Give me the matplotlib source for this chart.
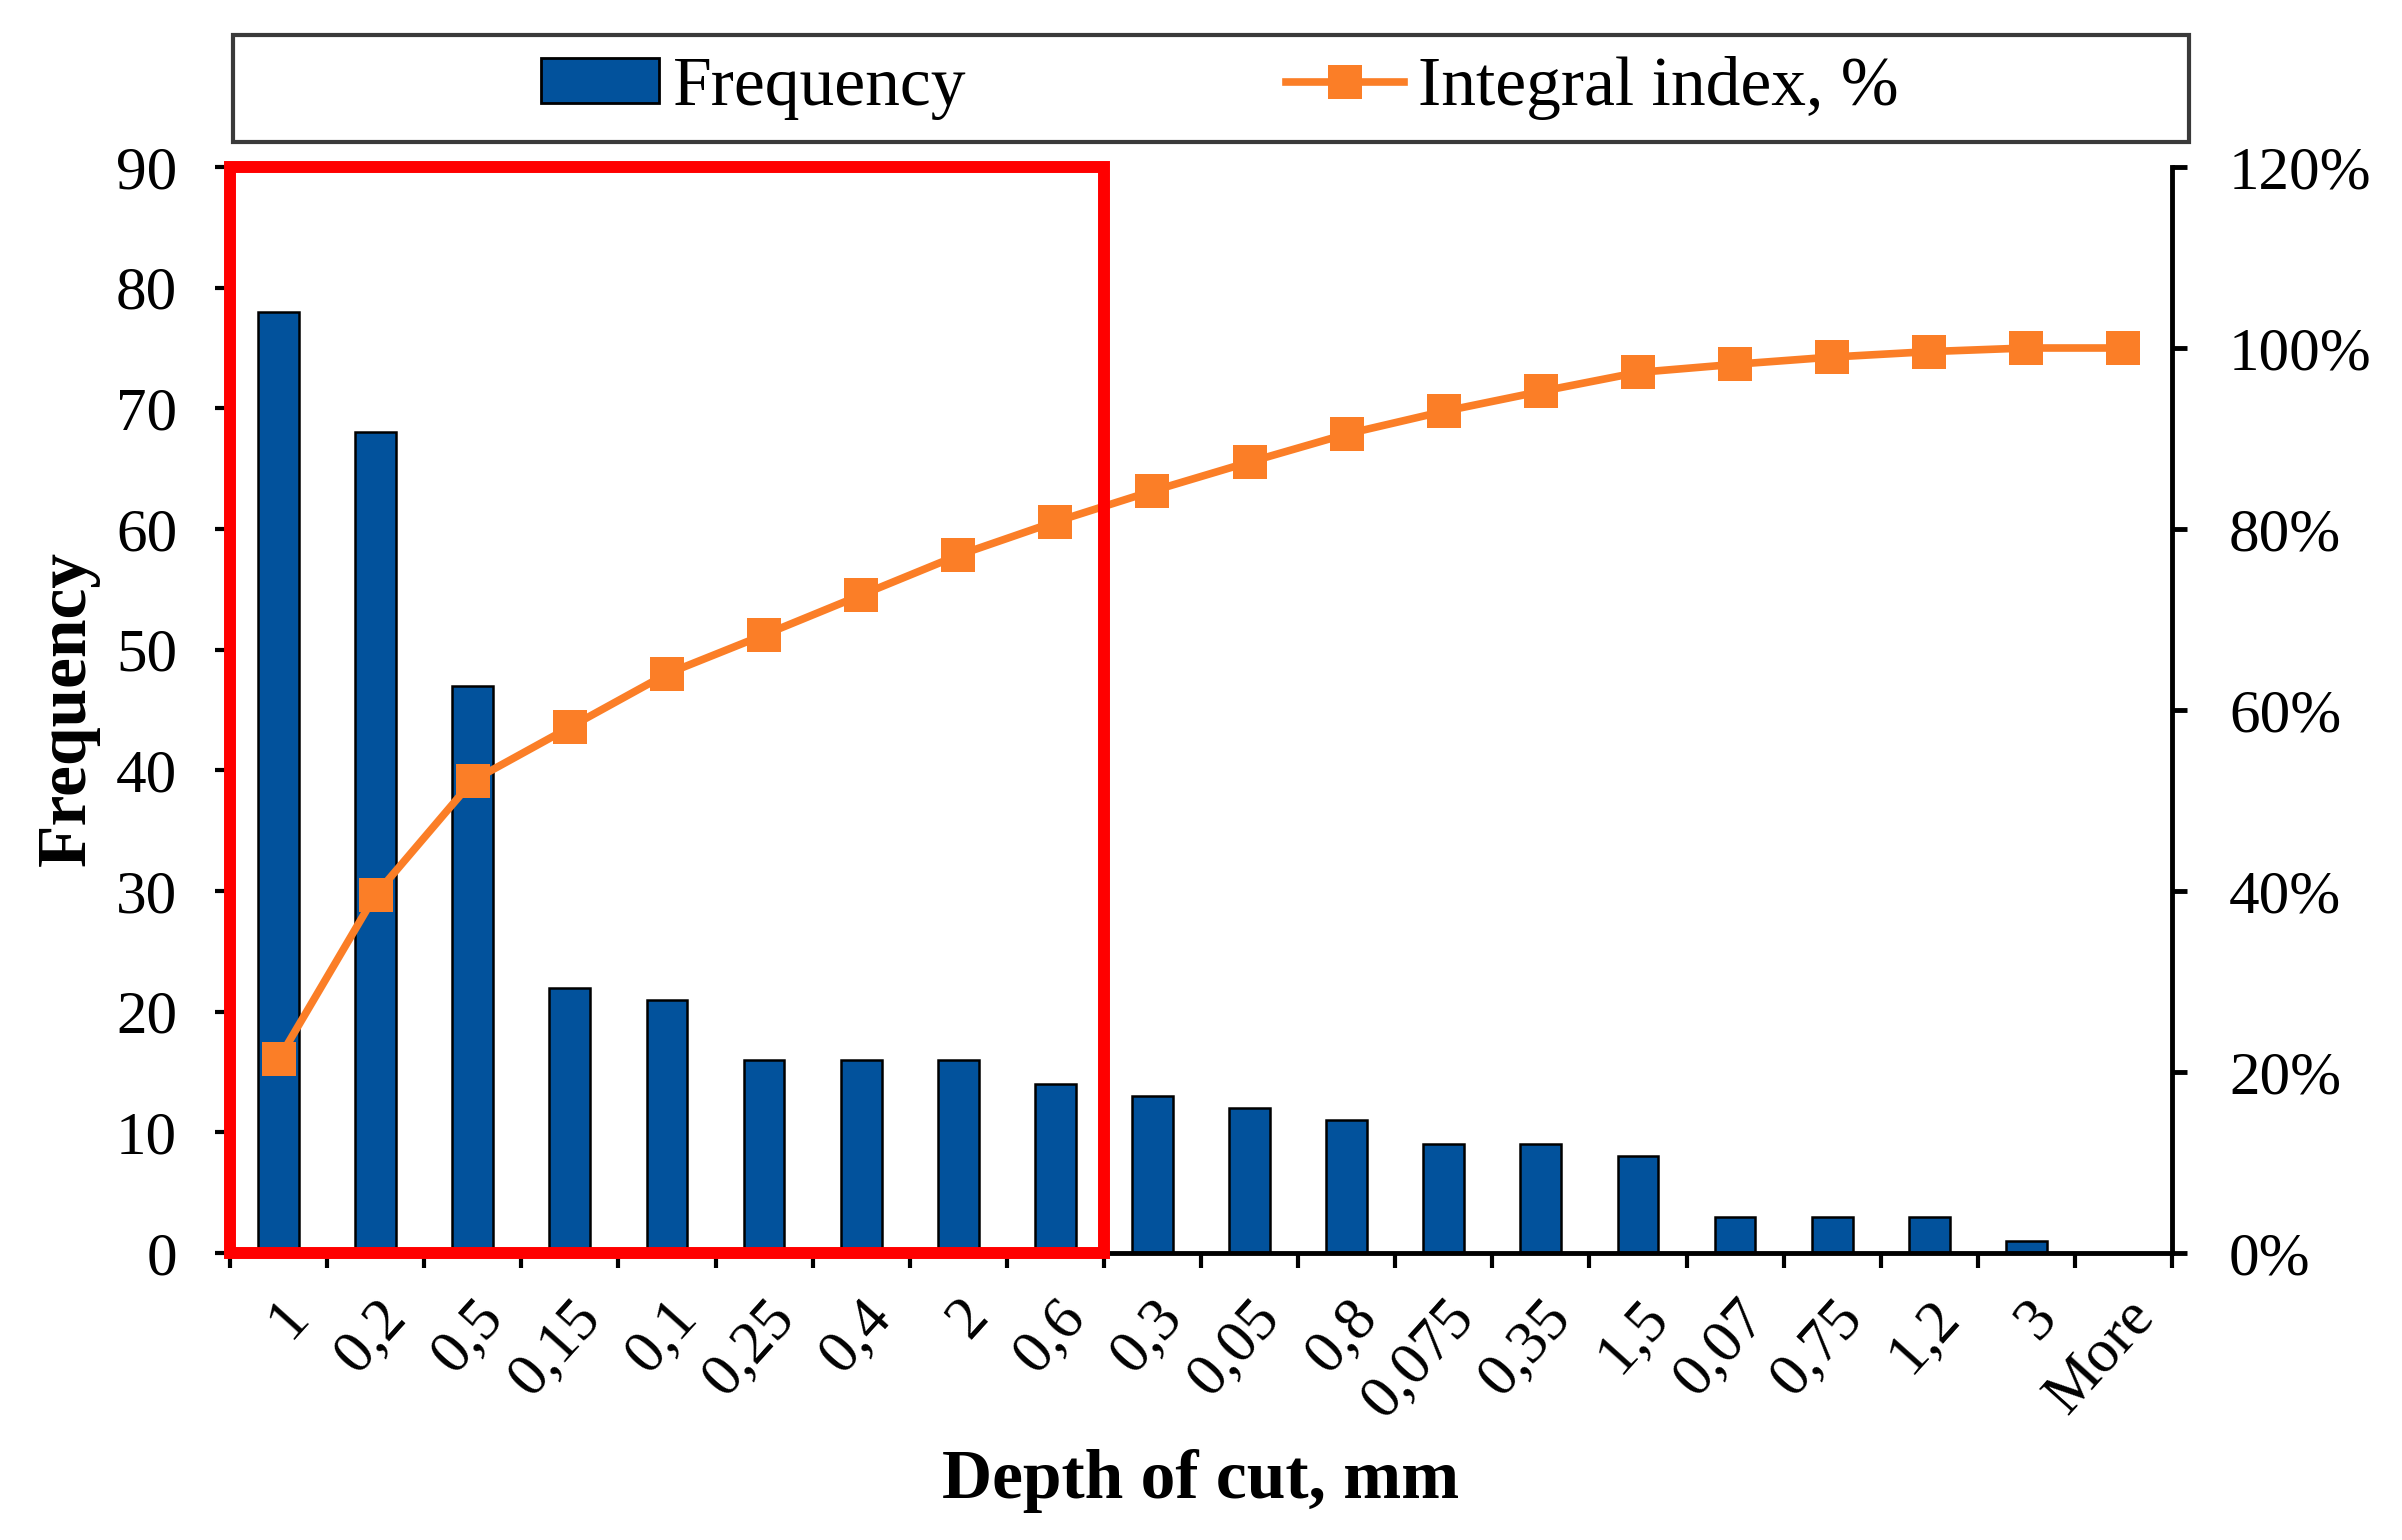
import matplotlib
matplotlib.use("Agg")
import matplotlib.pyplot as plt
from matplotlib.patches import Rectangle
from matplotlib.ticker import FixedLocator, FuncFormatter
from matplotlib.lines import Line2D
from matplotlib.patches import Patch

# ---- data ----
categories = ["1", "0,2", "0,5", "0,15", "0,1", "0,25", "0,4", "2", "0,6", "0,3",
              "0,05", "0,8", "0,075", "0,35", "1,5", "0,07", "0,75", "1,2", "3", "More"]
frequency = [78, 68, 47, 22, 21, 16, 16, 16, 14, 13, 12, 11, 9, 9, 8, 3, 3, 3, 1, 0]
integral_pct = [21.4, 39.6, 52.2, 58.1, 64.0, 68.3, 72.7, 77.1, 80.8, 84.2,
                87.4, 90.5, 93.0, 95.2, 97.3, 98.2, 99.0, 99.6, 100.0, 100.0]
freq_ticks = [0, 10, 20, 30, 40, 50, 60, 70, 80, 90]
pct_ticks = [0, 20, 40, 60, 80, 100, 120]
highlight_n = 9   # number of leading categories inside the red frame

BLUE = "#02529C"
ORANGE = "#FB7E27"
RED = "#FF0000"
FONT = "Liberation Serif"

plt.rcParams["font.family"] = [FONT, "DejaVu Serif"]

W, H = 2402, 1540
fig = plt.figure(figsize=(W / 100, H / 100), dpi=100)
L, R, T, B = 230, 2172, 167, 1253
ax = fig.add_axes([L / W, 1 - B / H, (R - L) / W, (B - T) / H])
ax2 = ax.twinx()

x = list(range(len(categories)))
ax.bar(x, frequency, width=0.42, color=BLUE, edgecolor="black", linewidth=1.8, zorder=2)
ax.set_xlim(-0.5, len(categories) - 0.5)
ax.set_ylim(0, 90)
ax.set_yticks(freq_ticks)

ax2.plot(x, [v / 100 for v in integral_pct], color=ORANGE, lw=5.5, marker="s",
         markersize=24, markeredgewidth=0, zorder=3)
ax2.set_ylim(0, 1.2)
ax2.set_yticks([p / 100 for p in pct_ticks])
ax2.yaxis.set_major_formatter(FuncFormatter(lambda v, _: f"{v*100:.0f}%"))

# x ticks at category boundaries, labels at centres
ax.xaxis.set_major_locator(FixedLocator([i - 0.5 for i in range(len(categories) + 1)]))
ax.xaxis.set_minor_locator(FixedLocator(x))
ax.xaxis.set_major_formatter(FuncFormatter(lambda v, _: ""))
ax.set_xticks(x, minor=True)
ax.set_xticklabels(categories, minor=True, rotation=48, ha="right", va="top",
                   rotation_mode="anchor", fontsize=44)
ax.tick_params(axis="x", which="major", direction="out", length=11, width=3, color="black")
ax.tick_params(axis="x", which="minor", length=0, pad=26)

ax.tick_params(axis="y", direction="out", length=11, width=3, labelsize=44, pad=27)
ax2.tick_params(axis="y", direction="out", length=11, width=3.5, labelsize=44, pad=30)

for a in (ax, ax2):
    a.spines["top"].set_visible(False)
    for s in ("left", "right", "bottom"):
        a.spines[s].set_linewidth(3.5)
ax.spines["right"].set_visible(False)
ax2.spines["left"].set_visible(False)
ax2.spines["bottom"].set_visible(False)
ax2.set_zorder(ax.get_zorder() + 1)
ax2.patch.set_visible(False)

# red highlight frame
rect = Rectangle((-0.5, 0), highlight_n, 90, transform=ax.transData, fill=False,
                 edgecolor=RED, linewidth=8.6, clip_on=False, zorder=10)
ax2.add_patch(rect)

# axis labels
fig.text(1201 / W, 1 - 1481 / H, "Depth of cut, mm", ha="center", va="center",
         fontsize=50, fontweight="bold")
fig.text(68 / W, 1 - 708 / H, "Frequency", ha="center", va="center",
         fontsize=50, fontweight="bold", rotation=90)

# legend box
frame = Rectangle((233 / W, 1 - 142 / H), (2189 - 233) / W, (142 - 35) / H,
                  transform=fig.transFigure, fill=False, edgecolor="#3a3a3a",
                  linewidth=3, zorder=5)
fig.add_artist(frame)
handles = [Patch(facecolor=BLUE, edgecolor="black", linewidth=2),
           Line2D([], [], color=ORANGE, lw=5.5, marker="s", markersize=24, markeredgewidth=0)]
fig.legend(handles, ["Frequency", "Integral index, %"], loc="center",
           bbox_to_anchor=(1220 / W, 1 - 88 / H), ncol=2, frameon=False,
           fontsize=50, handlelength=1.7, handleheight=0.6, handletextpad=0.2,
           columnspacing=4.6, borderpad=0)

fig.savefig("out.png", dpi=100)
